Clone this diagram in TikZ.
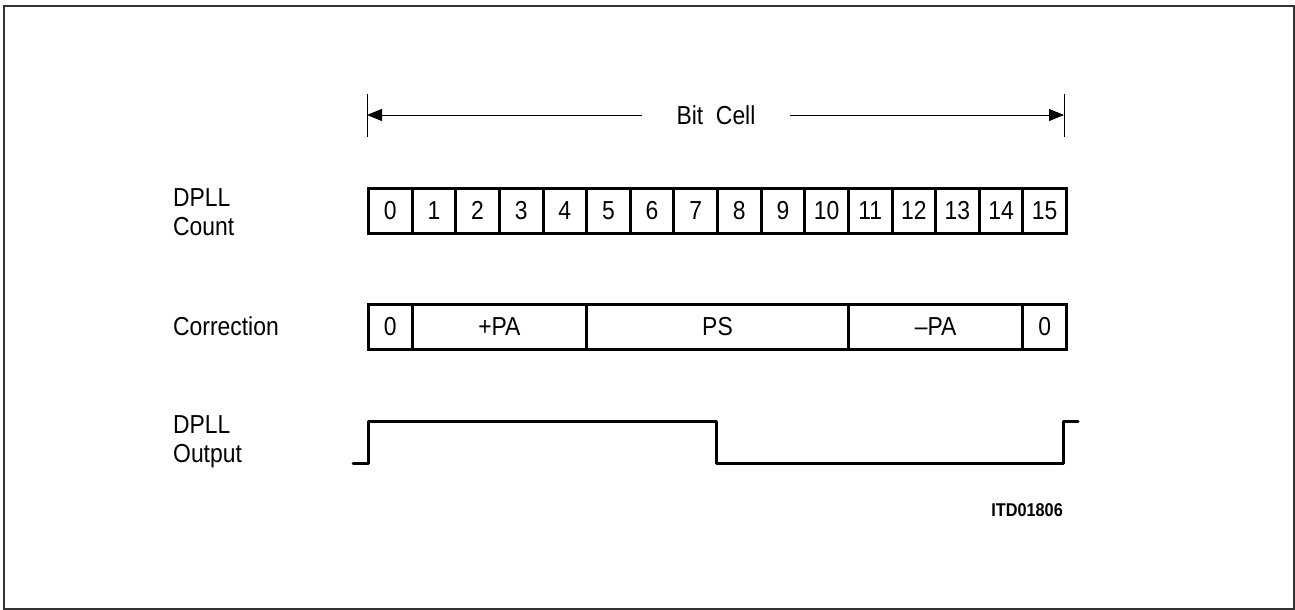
\documentclass[tikz,border=0pt]{standalone}
\usepackage{fontspec}
\setmainfont{Liberation Sans}[FakeStretch=0.88]
\usetikzlibrary{arrows.meta}
\begin{document}
\begin{tikzpicture}[x=1pt,y=-1pt,
  lbl/.style={font=\fontsize{26}{29}\selectfont,inner sep=0pt},
  cellbox/.style={draw,line width=3pt,minimum height=45pt,inner sep=0pt,font=\fontsize{26}{29}\selectfont,anchor=west},
  dim/.style={line width=1pt},
  wave/.style={line width=3pt,line cap=round,line join=round},
  tip/.style={-{Triangle[length=15pt,width=12pt]}}]
\useasboundingbox (0,0) rectangle (1295,610);
\draw[line width=2pt,black!80] (4,6) rectangle (1294,609);
% Bit cell dimension
\coordinate (tl) at (367,115);
\coordinate (tr) at (1064,115);
\draw[dim] (367,94) -- (367,137);
\draw[dim] (1064,94) -- (1064,137);
\node[lbl] (bc) at (716,115) {Bit\ \ Cell};
\draw[dim,tip] ([xshift=-34pt]bc.west) -- (tl);
\draw[dim,tip] ([xshift=34pt]bc.east) -- (tr);
% labels
\node[lbl,anchor=west,align=left] (lcount) at (173,212) {DPLL\\Count};
\node[lbl,anchor=west] (lcorr) at (173,326) {Correction};
\node[lbl,anchor=west,align=left] (lout) at (173,442) {DPLL\\Output};
% DPLL count cells
\foreach \i in {0,...,15}{
  \node[cellbox,minimum width=43.625pt] (c\i) at ({367+43.625*\i},210.5) {\i};
}
% Correction cells
\node[cellbox,minimum width=43.625pt] (k0) at (367,326.5) {0};
\node[cellbox,minimum width=174.5pt] (kpa) at (410.625,326.5) {+PA};
\node[cellbox,minimum width=261.75pt] (kps) at (585.125,326.5) {PS};
\node[cellbox,minimum width=174.5pt] (kma) at (846.875,326.5) {\textendash PA};
\node[cellbox,minimum width=43.625pt] (k15) at (1021.375,326.5) {0};
% Output waveform
\draw[wave] (353,463) -- (368,463) -- (368,421) -- (716,421) -- (716,463) -- (1063,463) -- (1063,421) -- (1078,421);
\node[inner sep=0pt,anchor=east,font=\fontsize{18.5}{20}\selectfont\bfseries] (id) at (1063,510) {ITD01806};
\end{tikzpicture}
\end{document}
